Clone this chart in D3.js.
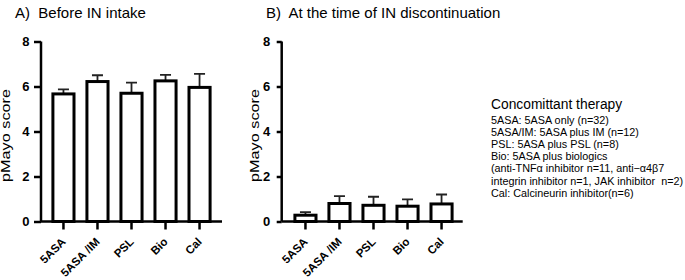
<!DOCTYPE html>
<html>
<head>
<meta charset="utf-8">
<script src="https://cdn.jsdelivr.net/npm/d3@7"></script>
<style>
  body { margin: 0; background: #fff; }
  text { font-family: "Liberation Sans", Arial, sans-serif; fill: #000; white-space: pre; }
</style>
</head>
<body>
<div id="chart"></div>
<script>
// data
const groups = ["5ASA", "5ASA /IM", "PSL", "Bio", "Cal"];
const beforeMean = [5.67, 6.22, 5.7, 6.25, 5.96];
const beforeErr = [0.2, 0.28, 0.47, 0.27, 0.6];
const afterMean = [0.28, 0.8, 0.72, 0.68, 0.78];
const afterErr = [0.14, 0.33, 0.38, 0.3, 0.42];
const yTicks = [0, 2, 4, 6, 8];
const legendTitle = "Concomittant therapy";
const legendLines = [
  "5ASA: 5ASA only (n=32)",
  "5ASA/IM: 5ASA plus IM (n=12)",
  "PSL: 5ASA plus PSL (n=8)",
  "Bio: 5ASA plus biologics",
  "(anti-TNFα inhibitor n=11, anti−α4β7",
  "integrin inhibitor n=1, JAK inhibitor  n=2)",
  "Cal: Calcineurin inhibitor(n=6)"
];

const width = 685, height = 280;
const svg = d3.select("#chart").append("svg")
  .attr("width", width)
  .attr("height", height);

const y = d3.scaleLinear().domain([0, 8]).range([221.5, 41.5]);

function panel(axisX, left, title, titleX, labelX, tickLen, means, errs) {
  const right = axisX + 181;
  const x = d3.scaleBand().domain(groups).range([left, left + 181])
    .paddingInner(0.38).paddingOuter(0.35);

  const g = svg.append("g");

  g.append("text")
    .attr("x", titleX)
    .attr("y", 18)
    .attr("font-size", 15)
    .text(title);

  // y axis
  const yAxis = g.append("g")
    .attr("transform", `translate(${axisX},0)`)
    .call(d3.axisLeft(y).tickValues(yTicks).tickSize(tickLen).tickPadding(10 - tickLen + 1.5));
  yAxis.select(".domain").attr("stroke", "#000").attr("stroke-width", 2.5)
    .attr("d", `M0,${y(8)}V${y(0)}`);
  yAxis.selectAll(".tick line").attr("stroke", "#000").attr("stroke-width", 2.5);
  yAxis.selectAll(".tick text")
    .attr("font-size", 13).attr("font-weight", "bold")
    .attr("font-family", "Liberation Sans, Arial, sans-serif");

  g.append("text")
    .attr("transform", `translate(${labelX},135.5) rotate(-90) scale(1.3,1)`)
    .attr("text-anchor", "middle")
    .attr("font-size", 12.5)
    .text("pMayo score");

  // x axis
  const xAxis = g.append("g")
    .attr("transform", `translate(0,${y(0)})`)
    .call(d3.axisBottom(x).tickSize(8));
  xAxis.select(".domain").attr("stroke", "#000").attr("stroke-width", 2.5)
    .attr("d", `M${axisX},0H${right}`);
  xAxis.selectAll(".tick line").attr("stroke", "#000").attr("stroke-width", 2.5);
  xAxis.selectAll(".tick text")
    .attr("font-size", 11.5).attr("font-weight", "bold")
    .attr("font-family", "Liberation Sans, Arial, sans-serif")
    .attr("text-anchor", "end")
    .attr("x", 0).attr("y", 0).attr("dy", 0)
    .attr("transform", "translate(3,21) rotate(-45)");

  const data = groups.map((k, i) => ({ k, m: means[i], e: errs[i] }));

  // error bars (upper only)
  g.selectAll(".err").data(data).join("path")
    .attr("fill", "none")
    .attr("stroke", "#222")
    .attr("stroke-width", 1.8)
    .attr("d", d => {
      const cx = x(d.k) + x.bandwidth() / 2;
      return `M${cx},${y(d.m)}V${y(d.m + d.e)}M${cx - 5.5},${y(d.m + d.e)}H${cx + 5.5}`;
    });

  // bars
  g.selectAll(".bar").data(data).join("rect")
    .attr("x", d => x(d.k))
    .attr("y", d => y(d.m))
    .attr("width", x.bandwidth())
    .attr("height", d => y(0) - y(d.m))
    .attr("fill", "#fff")
    .attr("stroke", "#000")
    .attr("stroke-width", 3);

  xAxis.raise();
}

panel(41, 41, "A)  Before IN intake", 15, 10, 7, beforeMean, beforeErr);
panel(281.7, 283, "B)  At the time of IN discontinuation", 266, 258.5, 5, afterMean, afterErr);

// legend text
const leg = svg.append("g").attr("transform", "translate(491,0)");
leg.append("text").attr("x", 0).attr("y", 109).attr("font-size", 13.8).text(legendTitle);
leg.selectAll(".ll").data(legendLines).join("text")
  .attr("x", 0)
  .attr("y", (d, i) => 123.5 + i * 12.2)
  .attr("font-size", 10.8)
  .text(d => d);
</script>
</body>
</html>
